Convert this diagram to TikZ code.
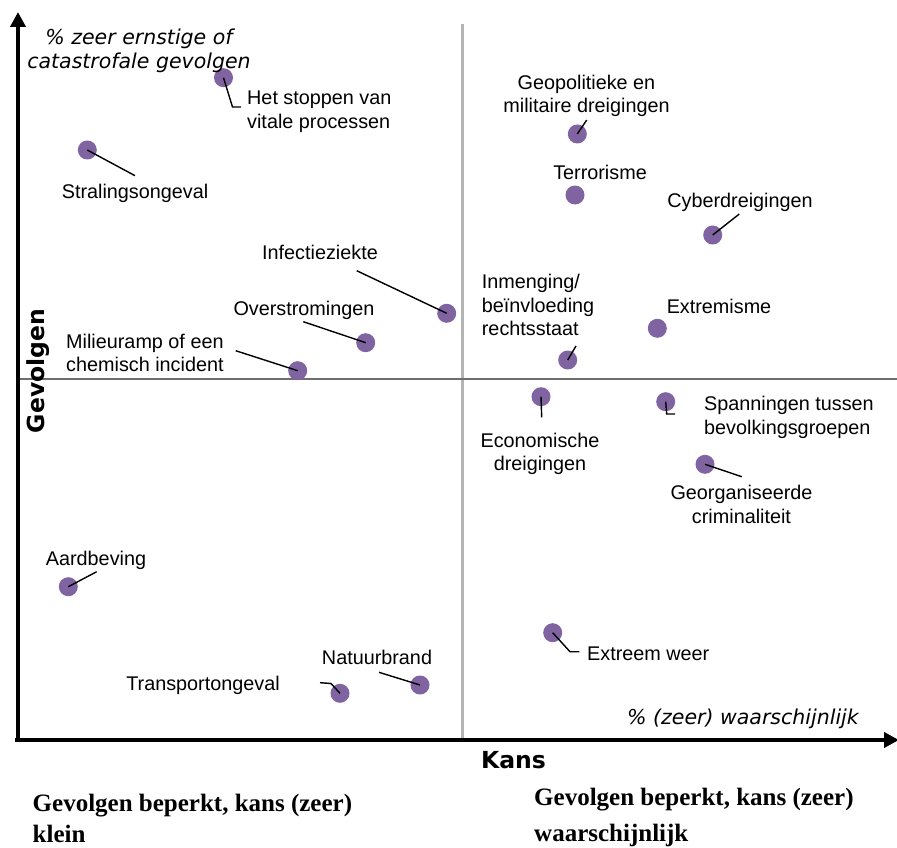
\documentclass[tikz,border=0pt]{standalone}
\usepackage{fontspec}
\setmainfont{Liberation Sans}
\newfontfamily\verd{DejaVu Sans}[ItalicFont={DejaVu Sans Oblique},BoldFont={DejaVu Sans Bold}]
\newfontfamily\bser{Liberation Serif}
\usetikzlibrary{arrows.meta}
\definecolor{dotpurple}{HTML}{8064A2}
\definecolor{qgrayv}{HTML}{B4B4B4}
\definecolor{qgrayh}{HTML}{6E6E6E}
\begin{document}
\begin{tikzpicture}[x=1pt,y=-1pt,
  dot/.style={circle,fill=dotpurple,draw=none,minimum size=19pt,inner sep=0pt},
  lbl/.style={inner sep=0pt,font=\fontsize{19.8}{23.5}\selectfont},
  ital/.style={inner sep=0pt,font=\verd\itshape\fontsize{20.5}{23.5}\selectfont},
  axlbl/.style={inner sep=0pt,font=\verd\bfseries\fontsize{23.5}{28}\selectfont},
  foot/.style={inner sep=0pt,font=\bser\bfseries\fontsize{25}{36}\selectfont,anchor=base west},
  leader/.style={draw=black,line width=1.4pt},
  axisline/.style={line width=4.5pt,-{Triangle[length=15pt,width=15pt]}},
]
\useasboundingbox (0,0) rectangle (897,848);
\fill[white] (0,0) rectangle (897,848);

% quadrant lines
\coordinate (vtop) at (462,24);
\coordinate (vbot) at (462,738);
\coordinate (hleft) at (18,379);
\coordinate (hright) at (897,379);
\draw[qgrayv,line width=3pt] (vtop) -- (vbot);
\draw[qgrayh,line width=1.8pt] (hleft) -- (hright);

% axes
\coordinate (yo) at (18,742);
\coordinate (ytip) at (18,12);
\coordinate (xo) at (15,740);
\coordinate (xtip) at (899,740);
\draw[axisline] (yo) -- (ytip);
\draw[axisline] (xo) -- (xtip);

% dots
\node[dot] (d1) at (223.5,77.7) {};
\node[dot] (d2) at (87.3,150) {};
\node[dot] (d3) at (446.7,313.3) {};
\node[dot] (d4) at (365.7,342.7) {};
\node[dot] (d5) at (297.7,370.7) {};
\node[dot] (d6) at (68.3,586.7) {};
\node[dot] (d7) at (340,693.3) {};
\node[dot] (d8) at (420,685) {};
\node[dot] (d9) at (577.3,134) {};
\node[dot] (d10) at (575,195) {};
\node[dot] (d11) at (712.7,235) {};
\node[dot] (d12) at (567.7,360) {};
\node[dot] (d13) at (657.3,328.3) {};
\node[dot] (d14) at (541,396.7) {};
\node[dot] (d15) at (665.7,401.7) {};
\node[dot] (d16) at (705,464.3) {};
\node[dot] (d17) at (552.7,632.7) {};

% leader end points
\coordinate (c1a) at (232.5,107);
\coordinate (c1b) at (241,107);
\coordinate (c2) at (135,175.7);
\coordinate (c3) at (356.7,270.7);
\coordinate (c4) at (303.3,321.7);
\coordinate (c5) at (235.7,350.7);
\coordinate (c6) at (96.7,571.7);
\coordinate (c7a) at (320,682.7);
\coordinate (c7b) at (331,683.5);
\coordinate (c8) at (379,672.3);
\coordinate (c9) at (586.7,120);
\coordinate (c11) at (739.3,214);
\coordinate (c12) at (576,346);
\coordinate (c14) at (541.7,417.3);
\coordinate (c15a) at (666.7,414);
\coordinate (c15b) at (675,414);
\coordinate (c16) at (741.7,476.7);
\coordinate (c17a) at (570,651.7);
\coordinate (c17b) at (579.3,651.7);

% leaders
\draw[leader] (d1.center) -- (c1a) -- (c1b);
\draw[leader] (d2.center) -- (c2);
\draw[leader] (c3) -- (d3.center);
\draw[leader] (c4) -- (d4.center);
\draw[leader] (c5) -- (d5.center);
\draw[leader] (d6.center) -- (c6);
\draw[leader] (c7a) -- (c7b) -- (d7.center);
\draw[leader] (c8) -- (d8.center);
\draw[leader] (d9.center) -- (c9);
\draw[leader] (d11.center) -- (c11);
\draw[leader] (d12.center) -- (c12);
\draw[leader] (d14.center) -- (c14);
\draw[leader] (d15.center) -- (c15a) -- (c15b);
\draw[leader] (d16.center) -- (c16);
\draw[leader] (d17.center) -- (c17a) -- (c17b);

% labels
\node[ital,align=center] (tvert) at (139,51) {\% zeer ernstige of\\catastrofale gevolgen};
\node[lbl,align=left,anchor=west] (l1) at (247,111.5) {Het stoppen van\\vitale processen};
\node[lbl,anchor=base] (l2) at (135,198) {Stralingsongeval};
\node[lbl,anchor=base] (l3) at (320,259) {Infectieziekte};
\node[lbl,anchor=base] (l4) at (304,315) {Overstromingen};
\node[lbl,align=left,anchor=west] (l5) at (66,353) {Milieuramp of een\\chemisch incident};
\node[lbl,anchor=base] (l6) at (96,565) {Aardbeving};
\node[lbl,anchor=base] (l7) at (203,690) {Transportongeval};
\node[lbl,anchor=base] (l8) at (377,664) {Natuurbrand};
\node[lbl,align=center] (l9) at (586.5,96) {Geopolitieke en\\militaire dreigingen};
\node[lbl,anchor=base] (l10) at (600,179) {Terrorisme};
\node[lbl,anchor=base] (l11) at (740,207) {Cyberdreigingen};
\node[lbl,align=left,anchor=west] (l12) at (481.7,305) {Inmenging/\\beïnvloeding\\rechtsstaat};
\node[lbl,anchor=base] (l13) at (719,313) {Extremisme};
\node[lbl,align=center] (l14) at (540,454) {Economische\\dreigingen};
\node[lbl,align=left,anchor=west] (l15) at (704,417.5) {Spanningen tussen\\bevolkingsgroepen};
\node[lbl,align=center] (l16) at (741.5,504.5) {Georganiseerde\\criminaliteit};
\node[lbl,anchor=base west] (l17) at (587,660) {Extreem weer};
\node[ital,anchor=base] (thor) at (743,724.5) {\% (zeer) waarschijnlijk};

% axis titles
\node[axlbl,anchor=base] (kans) at (513.5,768.5) {Kans};
\node[axlbl,rotate=90] (gev) at (38,371) {Gevolgen};

% footers
\node[foot] (f1) at (32.5,811) {Gevolgen beperkt, kans (zeer)};
\node[foot] (f2) at (32.5,842) {klein};
\node[foot] (f3) at (534,805) {Gevolgen beperkt, kans (zeer)};
\node[foot] (f4) at (534,841) {waarschijnlijk};
\end{tikzpicture}
\end{document}
